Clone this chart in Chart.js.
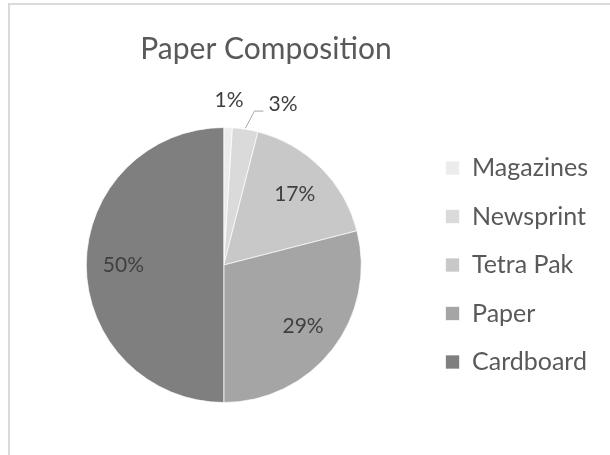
<!DOCTYPE html>
<html>
<head>
<meta charset="utf-8">
<script src="https://cdn.jsdelivr.net/npm/chart.js@4.4.1/dist/chart.umd.min.js"></script>
<style>
  body { margin: 0; background: #fff; }
  #wrap { position: relative; width: 610px; height: 455px; overflow: hidden; }
  #frame {
    position: absolute; left: 8px; top: 3px; width: 700px; height: 600px;
    border-left: 2px solid #d9d9d9; border-top: 2px solid #d9d9d9;
  }
  canvas { position: absolute; left: 0; top: 0; }
</style>
</head>
<body>
<div id="wrap">
  <div id="frame"></div>
  <canvas id="paperChart" width="610" height="455"></canvas>
</div>

<script>
  // paper composition, percent of total
  var materials = ["Magazines", "Newsprint", "Tetra Pak", "Paper", "Cardboard"];
  var shares = [1, 3, 17, 29, 50];
  var greys = ["#ececec", "#dadada", "#c8c8c8", "#a5a5a5", "#7f7f7f"];
  var chartTitle = "Paper Composition";

  var FONT = "Lato";

  // title sits a little right of the pie, so it is drawn by hand
  var titlePlugin = {
    id: "sideTitle",
    afterDraw: function (chart) {
      var ctx = chart.ctx;
      ctx.save();
      ctx.font = "30px " + FONT;
      ctx.fillStyle = "#595959";
      ctx.textAlign = "center";
      ctx.textBaseline = "alphabetic";
      ctx.fillText(chartTitle, 266, 59);
      ctx.restore();
    }
  };

  // percent labels: inside for big slices, outside (with a leader when crowded) for small ones
  var pctLabels = {
    id: "pctLabels",
    afterDatasetsDraw: function (chart) {
      var ctx = chart.ctx;
      var meta = chart.getDatasetMeta(0);
      var prevOut = null;
      ctx.save();
      ctx.font = "21px " + FONT;
      ctx.fillStyle = "#404040";
      ctx.textBaseline = "middle";
      ctx.textAlign = "center";
      meta.data.forEach(function (arc, i) {
        var p = arc.getProps(["x", "y", "startAngle", "endAngle", "outerRadius"], true);
        var mid = (p.startAngle + p.endAngle) / 2;
        var txt = shares[i] + "%";
        var w = ctx.measureText(txt).width;
        if (shares[i] >= 5) {
          var r = p.outerRadius * 0.73;
          ctx.fillText(txt, p.x + Math.cos(mid) * r, p.y + Math.sin(mid) * r);
          return;
        }
        var ro = p.outerRadius * 1.2;
        var cx = p.x + Math.cos(mid) * ro;
        var cy = p.y + Math.sin(mid) * ro;
        if (prevOut && cx - w / 2 < prevOut.right + 4) {
          // push right of the previous label and draw a leader back to the slice
          var left = prevOut.right + 25;
          cx = left + w / 2;
          cy = prevOut.cy + 4;
          var ex = p.x + Math.cos(mid) * (p.outerRadius + 1);
          var ey = p.y + Math.sin(mid) * (p.outerRadius + 1);
          var endX = left - 5, endY = cy + 7;
          ctx.save();
          ctx.strokeStyle = "#a6a6a6";
          ctx.lineWidth = 1;
          ctx.beginPath();
          ctx.moveTo(ex, ey);
          ctx.lineTo(endX - 9, endY);
          ctx.lineTo(endX, endY);
          ctx.stroke();
          ctx.restore();
        }
        ctx.fillText(txt, cx, cy);
        prevOut = { right: cx + w / 2, cy: cy };
      });
      ctx.restore();
    }
  };

  new Chart(document.getElementById("paperChart"), {
    type: "pie",
    data: {
      labels: materials,
      datasets: [{
        data: shares,
        backgroundColor: greys,
        borderColor: "rgba(255,255,255,0.7)",
        borderWidth: 1
      }]
    },
    options: {
      responsive: false,
      animation: false,
      layout: { padding: { top: 127, bottom: 52, left: 25.5, right: 12 } },
      plugins: {
        title: { display: false },
        tooltip: { enabled: false },
        legend: {
          position: "right",
          labels: {
            boxWidth: 14,
            boxHeight: 14,
            padding: 23.5,
            color: "#595959",
            font: { family: FONT, size: 25 }
          }
        }
      }
    },
    plugins: [titlePlugin, pctLabels]
  });
</script>
</body>
</html>
